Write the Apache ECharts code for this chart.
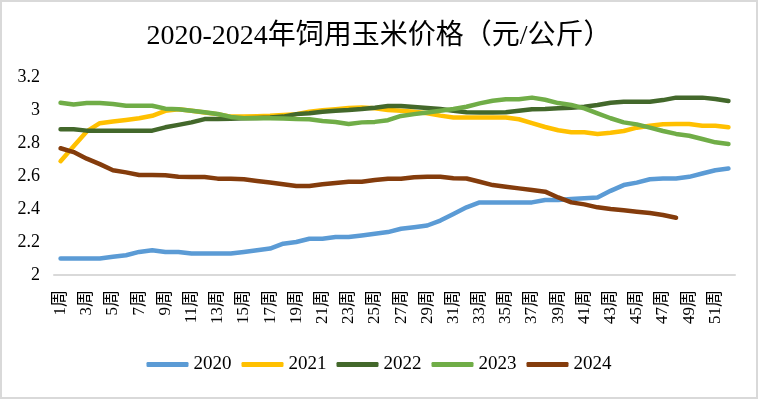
<!DOCTYPE html>
<html lang="zh">
<head>
    <meta charset="UTF-8">
    <title>饲用玉米价格</title>
    <script src="https://cdn.jsdelivr.net/npm/echarts@6/dist/echarts.min.js"></script>
    <style>
        body { margin: 0; background: #fff; }
        #wrap { position: relative; width: 758px; height: 399px; }
        #main { width: 758px; height: 399px; }
        #frame { position: absolute; left: 0; top: 0; width: 758px; height: 399px;
                 box-sizing: border-box; border: 2px solid #d9d9d9; pointer-events: none; }
    </style>
</head>
<body>
<div id="wrap">
    <div id="main"></div>
    <div id="frame"></div>
</div>
<script type="text/javascript">
    // 周次
    var weeks = [];
    for (var i = 1; i <= 52; i++) {
        weeks.push(i + '周');
    }
    var years = ['2020', '2021', '2022', '2023', '2024'];
    var colors = ['#5b9bd5', '#ffc000', '#43682b', '#70ad47', '#843c0c'];

    // 各年价格（元/公斤）
    var price2020 = [2.10, 2.10, 2.10, 2.10, 2.11, 2.12, 2.14, 2.15, 2.14, 2.14,
        2.13, 2.13, 2.13, 2.13, 2.14, 2.15, 2.16, 2.19, 2.20, 2.22,
        2.22, 2.23, 2.23, 2.24, 2.25, 2.26, 2.28, 2.29, 2.30, 2.33,
        2.37, 2.41, 2.44, 2.44, 2.44, 2.44, 2.44, 2.455, 2.455, 2.46,
        2.465, 2.47, 2.51, 2.545, 2.56, 2.58, 2.585, 2.585, 2.595, 2.615,
        2.635, 2.645];
    var price2021 = [2.69, 2.78, 2.87, 2.92, 2.93, 2.94, 2.95, 2.965, 2.995, 3.005,
        2.995, 2.985, 2.975, 2.96, 2.96, 2.962, 2.965, 2.97, 2.975, 2.99,
        2.998, 3.005, 3.012, 3.015, 3.01, 3.0, 2.995, 2.99, 2.98, 2.966,
        2.955, 2.955, 2.955, 2.955, 2.955, 2.944, 2.92, 2.897, 2.877, 2.865,
        2.865, 2.855, 2.862, 2.873, 2.893, 2.905, 2.913, 2.915, 2.915, 2.905,
        2.905, 2.895];
    var price2022 = [2.883, 2.883, 2.875, 2.875, 2.875, 2.875, 2.875, 2.875, 2.895, 2.91,
        2.925, 2.945, 2.945, 2.947, 2.95, 2.952, 2.955, 2.96, 2.975, 2.98,
        2.99, 2.996, 3.0, 3.006, 3.014, 3.024, 3.024, 3.018, 3.012, 3.006,
        2.995, 2.987, 2.985, 2.985, 2.986, 2.995, 3.004, 3.006, 3.01, 3.014,
        3.02, 3.03, 3.044, 3.05, 3.05, 3.05, 3.06, 3.075, 3.075, 3.075,
        3.067, 3.055];
    var price2023 = [3.044, 3.033, 3.042, 3.042, 3.036, 3.026, 3.026, 3.026, 3.008, 3.004,
        2.996, 2.986, 2.976, 2.958, 2.95, 2.95, 2.95, 2.948, 2.945, 2.944,
        2.933, 2.927, 2.915, 2.925, 2.928, 2.938, 2.964, 2.975, 2.985, 2.995,
        3.006, 3.02, 3.04, 3.056, 3.065, 3.065, 3.075, 3.062, 3.042, 3.03,
        3.01, 2.98, 2.95, 2.925, 2.913, 2.893, 2.873, 2.855, 2.844, 2.824,
        2.804, 2.794];
    var price2024 = [2.768, 2.745, 2.705, 2.672, 2.635, 2.622, 2.606, 2.606, 2.604, 2.595,
        2.594, 2.594, 2.584, 2.584, 2.58, 2.57, 2.56, 2.55, 2.54, 2.54,
        2.55, 2.557, 2.565, 2.565, 2.576, 2.584, 2.584, 2.592, 2.596, 2.596,
        2.587, 2.585, 2.565, 2.545, 2.535, 2.525, 2.515, 2.505, 2.47, 2.44,
        2.428, 2.41, 2.4, 2.392, 2.384, 2.376, 2.364, 2.347];
    var allPrices = [price2020, price2021, price2022, price2023, price2024];

    var fontSerif = "'Times New Roman', 'Liberation Serif', 'Noto Sans CJK SC', serif";

    var myChart = echarts.init(document.getElementById('main'));
    var series = [];
    for (var k = 0; k < years.length; k++) {
        series.push({
            name: years[k],
            type: 'line',
            data: allPrices[k],
            symbol: 'none',
            smooth: false,
            lineStyle: { width: 4.5, color: colors[k], cap: 'round', join: 'round' },
            itemStyle: { color: colors[k] }
        });
    }

    myChart.setOption({
        animation: false,
        textStyle: { fontFamily: fontSerif, color: '#000' },
        title: {
            text: '2020-2024年饲用玉米价格（元/公斤）',
            left: 'center',
            top: 18,
            textStyle: { fontFamily: fontSerif, fontSize: 28, fontWeight: 'normal', color: '#000' }
        },
        legend: {
            bottom: 20,
            left: 'center',
            icon: 'roundRect',
            itemWidth: 42,
            itemHeight: 5,
            itemGap: 10,
            textStyle: { fontFamily: fontSerif, fontSize: 19, color: '#000' },
            data: years
        },
        grid: { left: 54, right: 23, top: 77, bottom: 124 },
        xAxis: {
            type: 'category',
            data: weeks,
            boundaryGap: true,
            axisLine: { lineStyle: { color: '#d9d9d9', width: 2 } },
            axisTick: { show: false },
            axisLabel: {
                interval: 1,
                rotate: 90,
                margin: 15,
                fontFamily: fontSerif,
                fontSize: 17,
                color: '#000'
            }
        },
        yAxis: {
            type: 'value',
            min: 2,
            max: 3.2,
            interval: 0.2,
            splitLine: { show: false },
            axisLine: { show: false },
            axisTick: { show: false },
            axisLabel: {
                margin: 14,
                fontFamily: fontSerif,
                fontSize: 18,
                color: '#000',
                formatter: function (v) { return parseFloat(v.toFixed(1)).toString(); }
            }
        },
        series: series
    });
</script>
</body>
</html>
